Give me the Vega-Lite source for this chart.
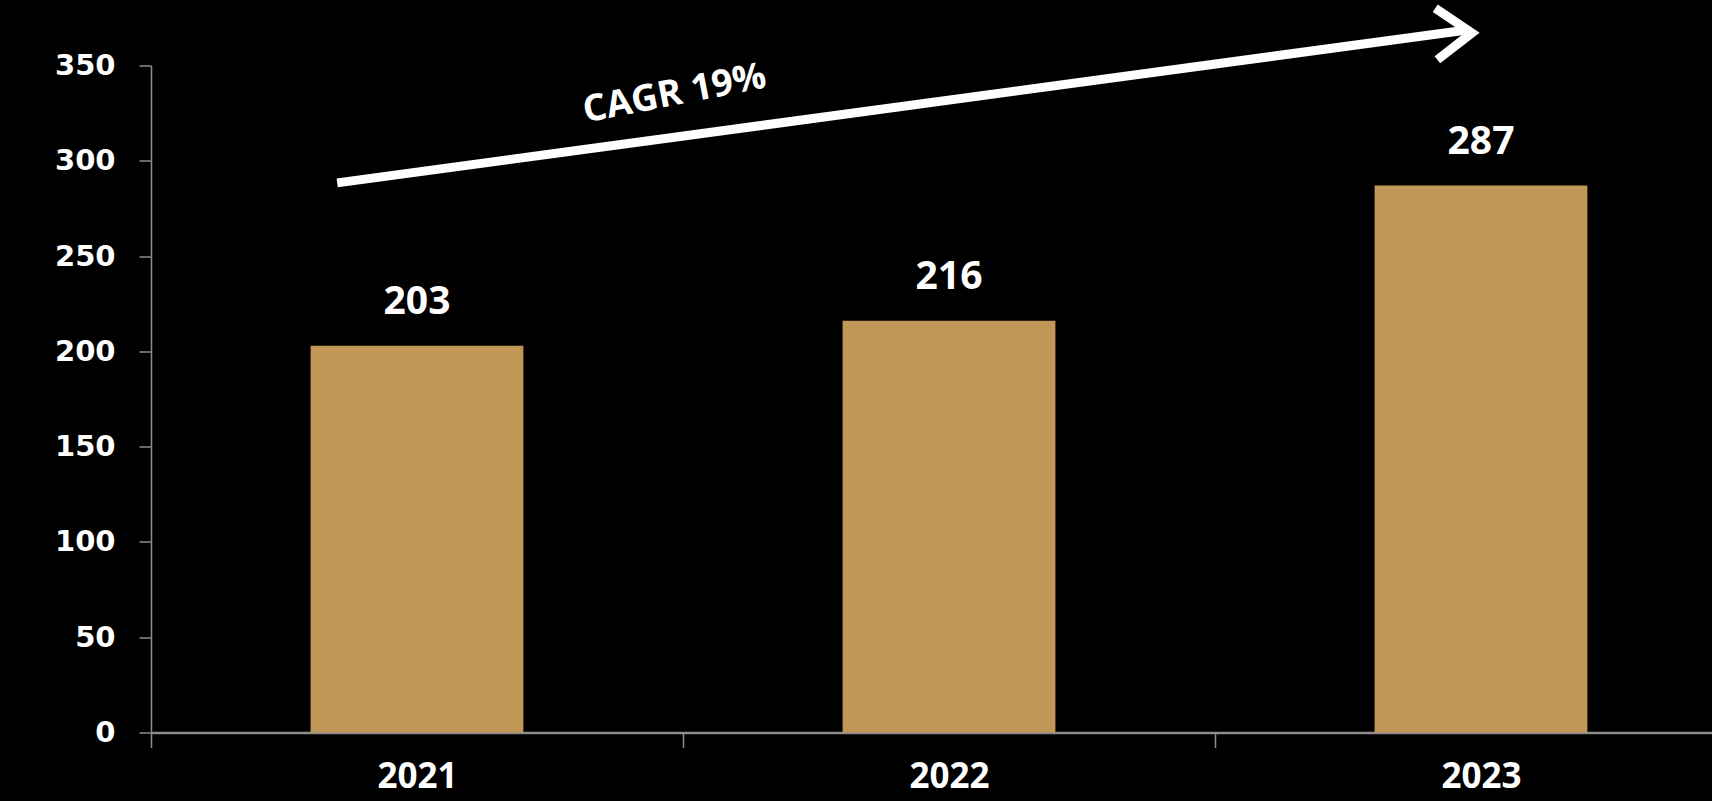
{
  "$schema": "https://vega.github.io/schema/vega-lite/v6.json",
  "width": 1561,
  "height": 667,
  "autosize": {"type": "none"},
  "padding": {"left": 151, "top": 65.5, "right": 0, "bottom": 68.5},
  "background": "#000000",
  "config": {
    "view": {"stroke": null},
    "axis": {"grid": false}
  },
  "datasets": {
    "bars": [
      {"year": "2021", "value": 203},
      {"year": "2022", "value": 216},
      {"year": "2023", "value": 287}
    ],
    "arrow": [
      {"part": "shaft", "order": 1, "px": 0.350, "py": 288.4},
      {"part": "shaft", "order": 2, "px": 2.470, "py": 368.5},
      {"part": "head", "order": 1, "px": 2.414, "py": 380.0},
      {"part": "head", "order": 2, "px": 2.483, "py": 367.1},
      {"part": "head", "order": 3, "px": 2.418, "py": 353.0}
    ],
    "note": [
      {"label": "CAGR 19%", "px": 0.984, "py": 335}
    ]
  },
  "layer": [
    {
      "layer": [
        {
          "data": {"name": "bars"},
          "mark": {"type": "bar", "color": "#C19757"},
          "encoding": {
            "x": {
              "field": "year", "type": "nominal", "sort": null,
              "scale": {"range": [0, 1596], "paddingInner": 0.6, "paddingOuter": 0.3},
              "axis": {
                "title": null, "labelAngle": 0,
                "labelFont": "Open Sans", "labelFontWeight": "bold", "labelFontSize": 35,
                "labelColor": "#FFFFFF", "labelPadding": 12,
                "tickOffset": -266, "labelOffset": 266,
                "tickSize": 15, "tickColor": "#8C8C8C", "tickWidth": 1.5,
                "domainColor": "#8C8C8C", "domainWidth": 2.5
              }
            },
            "y": {
              "field": "value", "type": "quantitative",
              "scale": {"domain": [0, 350], "nice": false},
              "axis": {
                "title": null, "values": [0, 50, 100, 150, 200, 250, 300, 350],
                "labelFont": "DejaVu Sans", "labelFontWeight": "bold", "labelFontSize": 29,
                "labelColor": "#FFFFFF", "labelPadding": 24,
                "tickSize": 12, "tickColor": "#8C8C8C", "tickWidth": 1.5,
                "domainColor": "#8C8C8C", "domainWidth": 1.5
              }
            }
          }
        },
        {
          "data": {"name": "bars"},
          "mark": {"type": "text", "color": "#FFFFFF", "font": "Open Sans", "fontWeight": "bold", "fontSize": 39, "baseline": "alphabetic", "dy": -32},
          "encoding": {
            "x": {"field": "year", "type": "nominal", "sort": null},
            "y": {"field": "value", "type": "quantitative"},
            "text": {"field": "value", "type": "quantitative"}
          }
        }
      ]
    },
    {
      "layer": [
        {
          "data": {"name": "arrow"},
          "mark": {"type": "line", "color": "#FFFFFF", "strokeWidth": 9, "strokeCap": "butt", "strokeJoin": "miter", "clip": false},
          "encoding": {
            "x": {"field": "px", "type": "quantitative", "scale": {"domain": [0, 3], "range": [0, 1596]}, "axis": null},
            "y": {"field": "py", "type": "quantitative"},
            "detail": {"field": "part"},
            "order": {"field": "order"}
          }
        },
        {
          "data": {"name": "note"},
          "mark": {"type": "text", "color": "#FFFFFF", "font": "Open Sans", "fontWeight": "bold", "fontSize": 37, "angle": -11, "align": "center", "baseline": "middle"},
          "encoding": {
            "x": {"field": "px", "type": "quantitative", "axis": null},
            "y": {"field": "py", "type": "quantitative"},
            "text": {"field": "label"}
          }
        }
      ]
    }
  ],
  "resolve": {"scale": {"x": "independent"}}
}
